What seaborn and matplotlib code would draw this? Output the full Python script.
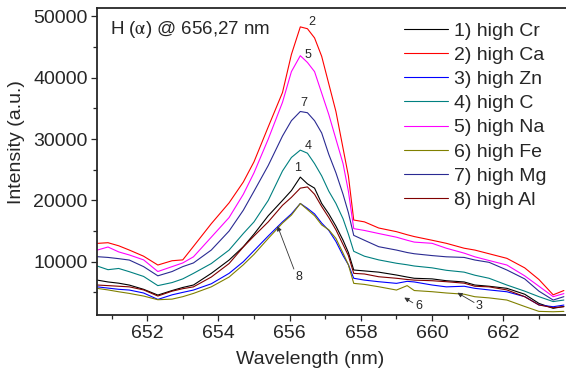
import numpy as np
import pandas as pd
import seaborn as sns
import matplotlib.pyplot as plt
from matplotlib.ticker import MultipleLocator

wavelength = [650.6, 650.9, 651.2, 651.5, 651.9, 652.3, 652.7, 653.0, 653.3, 653.8,
              654.3, 654.7, 655.0, 655.4, 655.8, 656.05, 656.3, 656.5, 656.7, 656.9,
              657.1, 657.3, 657.5, 657.65, 657.8, 658.1, 658.5, 659.0, 659.3, 659.5,
              660.0, 660.4, 660.9, 661.2, 661.6, 662.1, 662.6, 663.0, 663.4, 663.7]

high_cr = [7000, 6700, 6500, 6190, 5500, 4560, 5300, 5800, 6200, 8100,
           10270, 12450, 14500, 17500, 20000, 21600, 23800, 22700, 22000, 19500,
           17800, 15800, 13500, 11500, 8650, 8500, 8300, 7830, 7500, 7300,
           7200, 6900, 6700, 6200, 6000, 5660, 4700, 3200, 2400, 2700]
high_ca = [12990, 13100, 12600, 11900, 10900, 9460, 10160, 10300, 12500, 16200,
           19600, 23000, 26300, 32000, 37600, 43800, 48300, 48000, 46500, 43500,
           39000, 34500, 28500, 24000, 16800, 16500, 15500, 14900, 14400, 14100,
           13500, 13000, 12200, 11900, 11300, 10550, 9000, 7100, 4600, 5300]
high_zn = [5900, 5700, 5500, 5380, 4900, 3850, 4600, 5000, 5380, 6400,
           8100, 10000, 11800, 14200, 16500, 17800, 19500, 18700, 17800, 16300,
           15100, 13300, 11000, 9500, 7300, 7000, 6740, 6470, 6800, 6700,
           6200, 5900, 6000, 5660, 5400, 5100, 4300, 2950, 2660, 2930]
high_c = [9290, 8700, 8900, 8370, 7600, 6100, 6600, 7200, 8100, 9700,
          11900, 14600, 16500, 20000, 24800, 27000, 28200, 27700, 26000, 24000,
          21500, 19500, 17000, 14500, 11700, 10900, 10300, 9750, 9500, 9300,
          9000, 8600, 8300, 7800, 7300, 6200, 5200, 4300, 3500, 3750]
high_na = [11900, 12400, 11600, 11100, 10300, 8400, 9200, 9800, 10800, 14000,
           17200, 21000, 24500, 30000, 36000, 41000, 43600, 42500, 41000, 37500,
           34000, 30000, 26000, 21500, 15400, 15100, 14600, 14000, 13500, 13200,
           13000, 12200, 11400, 10800, 10200, 9460, 7700, 6000, 4300, 4800]
high_fe = [5650, 5400, 5100, 4830, 4400, 3800, 3900, 4300, 4830, 5900,
           7500, 9500, 11200, 13800, 16300, 17600, 19500, 18500, 17500, 16000,
           15200, 13800, 11400, 9500, 6470, 6300, 5920, 5380, 6100, 5300,
           5110, 4900, 4700, 4290, 4100, 3750, 2700, 1900, 1840, 1900]
high_mg = [10820, 10700, 10500, 10270, 9200, 7700, 8400, 9200, 9800, 11900,
           15000, 18400, 21500, 25700, 30500, 33000, 34500, 34300, 33000, 31000,
           27500, 24500, 21000, 18000, 14300, 13500, 12450, 11900, 11500, 11300,
           11000, 10800, 10700, 10280, 9900, 8650, 7200, 5200, 3750, 4300]
high_al = [6200, 6100, 6000, 5900, 5400, 4400, 5200, 5600, 5900, 7500,
           9700, 12400, 14200, 16500, 19200, 20500, 22000, 22200, 21000, 19000,
           17200, 15200, 12800, 11000, 8100, 8000, 7550, 7300, 7100, 7000,
           6900, 6740, 6500, 6000, 5900, 5400, 4300, 2950, 2500, 2660]

series_labels = ["1) high Cr", "2) high Ca", "3) high Zn", "4) high C",
                 "5) high Na", "6) high Fe", "7) high Mg", "8) high Al"]
series_values = [high_cr, high_ca, high_zn, high_c, high_na, high_fe, high_mg, high_al]
colors = ["#000000", "#FF0000", "#0000FF", "#008080",
          "#FF00FF", "#808000", "#2A2A92", "#800000"]

# peak labels, and arrow labels with arrow tail / tip
peak_labels = ["2", "5", "7", "4", "1"]
peak_pos = [(656.62, 49140), (656.51, 43710), (656.40, 35830), (656.52, 28870), (656.22, 25230)]
arrow_labels = ["8", "6", "3"]
arrow_text_pos = [(656.26, 7550), (659.63, 2700), (661.33, 2700)]
arrow_tail_pos = [(656.12, 8800), (659.46, 3300), (661.18, 3350)]
arrow_tip_pos = [(655.66, 15820), (659.22, 4150), (660.71, 4940)]

frames = [pd.DataFrame({"wavelength": wavelength, "intensity": v, "sample": lab})
          for lab, v in zip(series_labels, series_values)]
df = pd.concat(frames, ignore_index=True)

sns.set_style("ticks")
plt.rcParams["font.family"] = ["Liberation Sans", "DejaVu Sans"]
plt.rcParams["mathtext.fontset"] = "stix"

W, H = 566, 374
fig = plt.figure(figsize=(W / 100, H / 100), dpi=100)
ax = fig.add_axes([97.3 / W, (H - 315) / H, (W - 97.3) / W, (315 - 8.3) / H])

sns.lineplot(data=df, x="wavelength", y="intensity", hue="sample",
             hue_order=series_labels, palette=colors, linewidth=0.8,
             errorbar=None, ax=ax)

ax.set_xlim(650.6, 663.76)
ax.set_ylim(1310, 51330)
ax.xaxis.set_major_locator(MultipleLocator(2))
ax.xaxis.set_minor_locator(MultipleLocator(1))
ax.yaxis.set_major_locator(MultipleLocator(10000))
ax.yaxis.set_minor_locator(MultipleLocator(5000))
ax.tick_params(which="major", direction="out", length=4.5, width=0.9, labelsize=14, pad=2.5)
ax.tick_params(which="minor", direction="out", length=3, width=0.9)
ax.spines["right"].set_visible(False)
for s in ["left", "bottom", "top"]:
    ax.spines[s].set_linewidth(1.3)

ax.set_xlabel("Wavelength (nm)", fontsize=14)
ax.set_ylabel("Intensity (a.u.)", fontsize=14)
ax.xaxis.label.set_va("center")
ax.yaxis.label.set_va("center")
ax.xaxis.set_label_coords((310 - 97.3) / (W - 97.3), (315 - 359) / (315 - 8.3))
ax.yaxis.set_label_coords((17 - 97.3) / (W - 97.3), (315 - 142) / (315 - 8.3))

ax.text(0.027, 0.932, r"H ($\mathrm{\alpha}$) @ 656,27 nm", transform=ax.transAxes,
        fontsize=13.5, ha="left", va="center")

for lab, (x, y) in zip(peak_labels, peak_pos):
    ax.text(x, y, lab, fontsize=9, ha="center", va="center")
for lab, tpos, tail, tip in zip(arrow_labels, arrow_text_pos, arrow_tail_pos, arrow_tip_pos):
    ax.text(tpos[0], tpos[1], lab, fontsize=9, ha="center", va="center")
    ax.annotate("", xy=tip, xytext=tail,
                arrowprops=dict(arrowstyle="-|>", color="#333333", lw=0.6,
                                mutation_scale=7, shrinkA=0, shrinkB=0))

handles, labels = ax.get_legend_handles_labels()
ax.legend(handles, labels, loc="upper left",
          bbox_to_anchor=((404 - 97.3) / (W - 97.3), (315 - 22) / (315 - 8.3)),
          frameon=False, fontsize=14, handlelength=2.27, handletextpad=0.3,
          labelspacing=0.34, borderpad=0, borderaxespad=0)

fig.savefig("out.png", dpi=100)
